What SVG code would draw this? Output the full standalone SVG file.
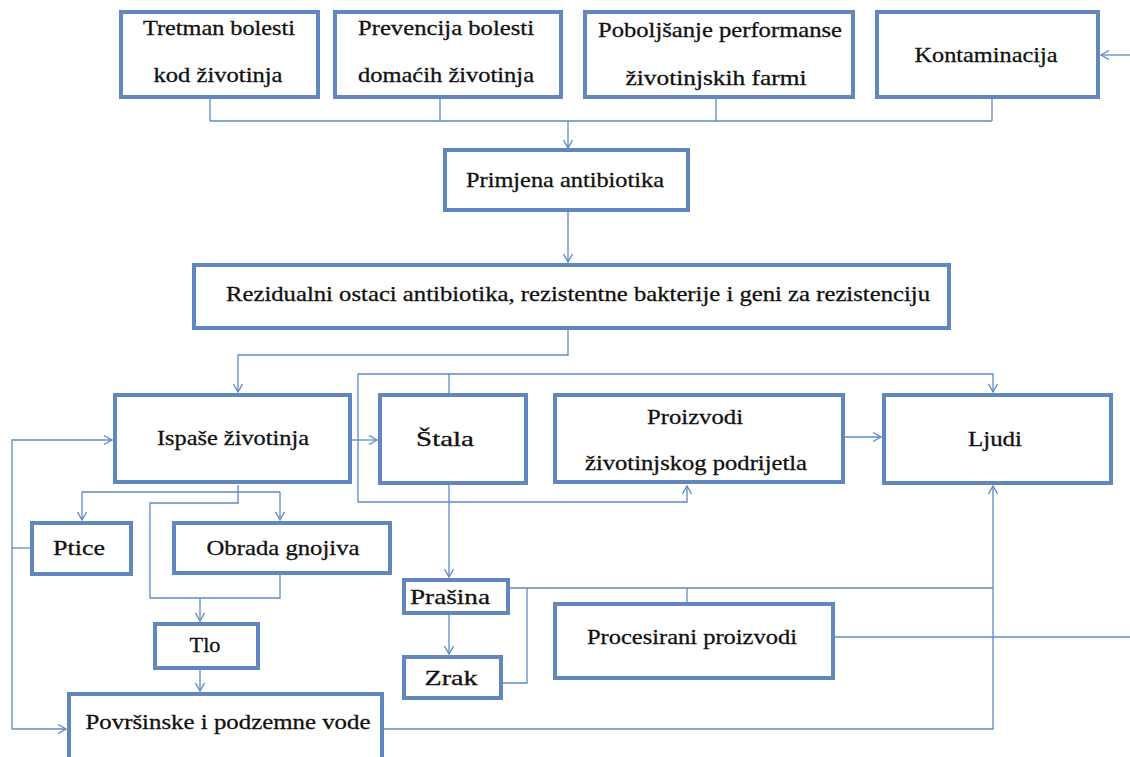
<svg xmlns="http://www.w3.org/2000/svg" width="1130" height="757" viewBox="0 0 1130 757">
<defs>
<marker id="arr" markerWidth="10" markerHeight="10" refX="9" refY="5" orient="auto" markerUnits="userSpaceOnUse">
<path d="M1,0.5 L9,5 L1,9.5" fill="none" stroke="#5f8ac6" stroke-width="1.3"/>
</marker>
<style>
.box{fill:#fff;stroke:#6287be;stroke-width:4}
.t{font-family:"Liberation Serif","Times New Roman",serif;font-weight:normal;font-size:22px;fill:#111;stroke:#111;stroke-width:0.3;text-anchor:middle}
.c{fill:none;stroke:#5f8ac6;stroke-width:1.3}
.a{marker-end:url(#arr)}
</style>
</defs>
<rect width="1130" height="757" fill="#fff"/>
<g id="connectors">
<path class="c" d="M210,99 V121 M440,99 V121 M716,99 V121 M992,99 V121 M210,121 H992"/>
<path class="c a" d="M568,121 V148"/>
<path class="c a" d="M1130,55 H1101"/>
<path class="c a" d="M568,212 V262"/>
<path class="c a" d="M568,330 V355 H238 V392"/>
<path class="c a" d="M352,440 H377"/>
<path class="c" d="M449,393 V374"/>
<path class="c a" d="M358,374 H993 V392"/>
<path class="c a" d="M358,374 V502 H687 V486"/>
<path class="c a" d="M845,437 H881"/>
<path class="c a" d="M449,485 V577"/>
<path class="c" d="M238,485 V492 M82,492 H280"/>
<path class="c a" d="M82,492 V520"/>
<path class="c a" d="M280,492 V520"/>
<path class="c" d="M238,492 V503 H150 V598 H280 V575"/>
<path class="c a" d="M200,598 V621"/>
<path class="c a" d="M200,670 V691"/>
<path class="c" d="M30,548 H12"/>
<path class="c a" d="M12,729 V440 H112"/>
<path class="c a" d="M12,729 H66"/>
<path class="c a" d="M384,729 H993 V486"/>
<path class="c" d="M510,588 H993 M527,588 V683 H503 M687,588 V602"/>
<path class="c" d="M835,637 H1130"/>
<path class="c a" d="M449,615 V654"/>
</g>
<g id="n-tretman"><rect class="box" x="121" y="12" width="197" height="85"/><text class="t" x="219" y="35" textLength="152" lengthAdjust="spacingAndGlyphs">Tretman bolesti</text><text class="t" x="218" y="82" textLength="129" lengthAdjust="spacingAndGlyphs">kod životinja</text></g>
<g id="n-prevencija"><rect class="box" x="335" y="12" width="226" height="85"/><text class="t" x="446" y="35" textLength="176" lengthAdjust="spacingAndGlyphs">Prevencija bolesti</text><text class="t" x="446" y="82" textLength="176" lengthAdjust="spacingAndGlyphs">domaćih životinja</text></g>
<g id="n-poboljsanje"><rect class="box" x="585" y="12" width="268" height="85"/><text class="t" x="720" y="37" textLength="244" lengthAdjust="spacingAndGlyphs">Poboljšanje performanse</text><text class="t" x="716" y="85" textLength="181" lengthAdjust="spacingAndGlyphs">životinjskih farmi</text></g>
<g id="n-kontaminacija"><rect class="box" x="877" y="12" width="221" height="85"/><text class="t" x="986" y="62" textLength="143" lengthAdjust="spacingAndGlyphs">Kontaminacija</text></g>
<g id="n-primjena"><rect class="box" x="445" y="150" width="243" height="60"/><text class="t" x="565" y="187" textLength="198" lengthAdjust="spacingAndGlyphs">Primjena antibiotika</text></g>
<g id="n-rezidualni"><rect class="box" x="194" y="265" width="755" height="63"/><text class="t" x="578" y="301" textLength="704" lengthAdjust="spacingAndGlyphs">Rezidualni ostaci antibiotika, rezistentne bakterije i geni za rezistenciju</text></g>
<g id="n-ispase"><rect class="box" x="115" y="395" width="235" height="87"/><text class="t" x="233" y="445" textLength="152" lengthAdjust="spacingAndGlyphs">Ispaše životinja</text></g>
<g id="n-stala"><rect class="box" x="380" y="395" width="146" height="88"/><text class="t" x="445" y="446" textLength="58" lengthAdjust="spacingAndGlyphs">Štala</text></g>
<g id="n-proizvodi"><rect class="box" x="555" y="395" width="288" height="87"/><text class="t" x="695" y="424" textLength="96" lengthAdjust="spacingAndGlyphs">Proizvodi</text><text class="t" x="696" y="470" textLength="222" lengthAdjust="spacingAndGlyphs">životinjskog podrijetla</text></g>
<g id="n-ljudi"><rect class="box" x="884" y="395" width="227" height="88"/><text class="t" x="995" y="446" textLength="54" lengthAdjust="spacingAndGlyphs">Ljudi</text></g>
<g id="n-ptice"><rect class="box" x="32" y="523" width="99" height="51"/><text class="t" x="79" y="555" textLength="52" lengthAdjust="spacingAndGlyphs">Ptice</text></g>
<g id="n-obrada"><rect class="box" x="174" y="523" width="216" height="50"/><text class="t" x="283" y="555" textLength="153" lengthAdjust="spacingAndGlyphs">Obrada gnojiva</text></g>
<g id="n-tlo"><rect class="box" x="155" y="624" width="103" height="44"/><text class="t" x="205" y="652" textLength="31" lengthAdjust="spacingAndGlyphs">Tlo</text></g>
<g id="n-povrsinske"><rect class="box" x="69" y="694" width="313" height="70"/><text class="t" x="228" y="729" textLength="285" lengthAdjust="spacingAndGlyphs">Površinske i podzemne vode</text></g>
<g id="n-prasina"><rect class="box" x="404" y="580" width="104" height="33"/><text class="t" x="450" y="604" textLength="80" lengthAdjust="spacingAndGlyphs">Prašina</text></g>
<g id="n-zrak"><rect class="box" x="404" y="657" width="97" height="41"/><text class="t" x="451" y="685" textLength="53" lengthAdjust="spacingAndGlyphs">Zrak</text></g>
<g id="n-procesirani"><rect class="box" x="555" y="604" width="278" height="74"/><text class="t" x="692" y="644" textLength="210" lengthAdjust="spacingAndGlyphs">Procesirani proizvodi</text></g>
</svg>
